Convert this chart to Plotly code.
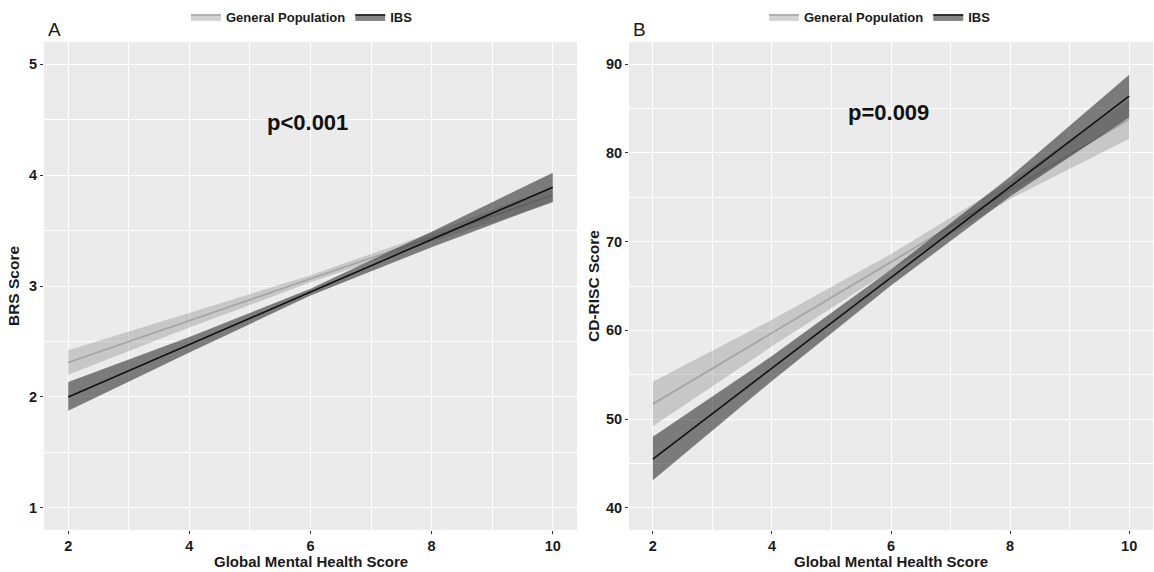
import plotly.graph_objects as go

# ---- data ----
x_pts = [2, 4, 6, 8, 10]

# Panel A: BRS Score
a_gp_fit = [2.31, 2.69, 3.065, 3.44, 3.82]
a_gp_lo = [2.20, 2.625, 3.033, 3.40, 3.75]
a_gp_hi = [2.42, 2.755, 3.097, 3.48, 3.89]
a_ibs_fit = [2.00, 2.47, 2.945, 3.42, 3.89]
a_ibs_lo = [1.875, 2.40, 2.915, 3.35, 3.76]
a_ibs_hi = [2.135, 2.54, 2.975, 3.49, 4.02]

# Panel B: CD-RISC Score
b_gp_fit = [51.7, 59.7, 67.7, 75.8, 83.8]
b_gp_lo = [49.2, 58.2, 66.8, 74.8, 81.6]
b_gp_hi = [54.2, 61.2, 68.6, 76.8, 86.0]
b_ibs_fit = [45.5, 55.7, 65.95, 76.2, 86.4]
b_ibs_lo = [43.1, 54.3, 65.05, 75.1, 84.0]
b_ibs_hi = [48.0, 57.1, 66.85, 77.3, 88.8]

groups = ["General Population", "IBS"]
p_labels = ["p<0.001", "p=0.009"]
x_title = "Global Mental Health Score"
y_titles = ["BRS Score", "CD-RISC Score"]
panel_tags = ["A", "B"]

GP_FILL = "rgba(150,150,150,0.42)"
GP_LINE = "#a3a3a3"
IBS_FILL = "rgba(55,55,55,0.62)"
IBS_LINE = "#111111"
FONT = "Liberation Sans, Arial, sans-serif"

fig = go.Figure()


def add_group(xa, ya, lo, hi, fit, fill, lcol, name, legend):
    fig.add_trace(go.Scatter(
        x=x_pts + x_pts[::-1], y=hi + lo[::-1], mode="lines", fill="toself",
        fillcolor=fill, line=dict(width=0), hoverinfo="skip", showlegend=False,
        xaxis=xa, yaxis=ya))
    fig.add_trace(go.Scatter(
        x=x_pts, y=fit, mode="lines", line=dict(color=lcol, width=1.6),
        showlegend=False, xaxis=xa, yaxis=ya))
    # legend key
    fig.add_trace(go.Scatter(
        x=[None], y=[None], mode="lines", fill="toself", fillcolor=fill,
        line=dict(color=lcol, width=1.6), name=name, legend=legend,
        xaxis=xa, yaxis=ya))


add_group("x", "y", a_gp_lo, a_gp_hi, a_gp_fit, GP_FILL, GP_LINE, groups[0], "legend")
add_group("x", "y", a_ibs_lo, a_ibs_hi, a_ibs_fit, IBS_FILL, IBS_LINE, groups[1], "legend")
add_group("x2", "y2", b_gp_lo, b_gp_hi, b_gp_fit, GP_FILL, GP_LINE, groups[0], "legend2")
add_group("x2", "y2", b_ibs_lo, b_ibs_hi, b_ibs_fit, IBS_FILL, IBS_LINE, groups[1], "legend2")

W, H = 1154, 572
ytop = 1 - 42 / H
ybot = 1 - 530 / H
dom_a = [44 / W, 577 / W]
dom_b = [629 / W, 1153 / W]

grid = dict(showgrid=True, gridcolor="white", gridwidth=1.3, zeroline=False,
            ticks="outside", ticklen=3, tickcolor="#333333", tickwidth=1,
            tickfont=dict(family=FONT, size=14.5, color="#1a1a1a", weight="bold"),
            showline=False)

xcommon = dict(grid, range=[1.6, 10.4], tickvals=[2, 4, 6, 8, 10],
               minor=dict(tickvals=[3, 5, 7, 9], showgrid=True, gridcolor="white",
                          gridwidth=0.6, ticks=""))

ytitle_font = dict(family=FONT, size=15.5, color="#1a1a1a", weight="bold")
xtitle_font = dict(family=FONT, size=15, color="#1a1a1a", weight="bold")

fig.update_layout(
    width=W, height=H, margin=dict(l=0, r=0, t=0, b=0),
    paper_bgcolor="white", plot_bgcolor="#ebebeb",
    xaxis=dict(xcommon, domain=dom_a, anchor="y"),
    xaxis2=dict(xcommon, domain=dom_b, anchor="y2"),
    yaxis=dict(grid, domain=[ybot, ytop], anchor="x", range=[0.8, 5.2],
               tickvals=[1, 2, 3, 4, 5],
               minor=dict(tickvals=[1.5, 2.5, 3.5, 4.5], showgrid=True, gridcolor="white",
                          gridwidth=0.6, ticks=""),
               title=dict(text=y_titles[0], font=ytitle_font, standoff=5)),
    yaxis2=dict(grid, domain=[ybot, ytop], anchor="x2", range=[37.5, 92.5],
                tickvals=[40, 50, 60, 70, 80, 90],
                minor=dict(tickvals=[45, 55, 65, 75, 85], showgrid=True, gridcolor="white",
                           gridwidth=0.6, ticks=""),
                title=dict(text=y_titles[1], font=ytitle_font, standoff=2)),
    legend=dict(orientation="h", x=302 / W, xanchor="center", y=1 - 17 / H, yanchor="middle",
                bgcolor="rgba(0,0,0,0)", font=dict(family=FONT, size=13, color="#1a1a1a", weight="bold"),
                itemwidth=30, traceorder="normal"),
    legend2=dict(orientation="h", x=880 / W, xanchor="center", y=1 - 17 / H, yanchor="middle",
                 bgcolor="rgba(0,0,0,0)", font=dict(family=FONT, size=13, color="#1a1a1a", weight="bold"),
                 itemwidth=30, traceorder="normal"),
    annotations=[
        dict(text=x_title, x=(dom_a[0] + dom_a[1]) / 2, y=1 - 571 / H, xref="paper", yref="paper",
             xanchor="center", yanchor="bottom", showarrow=False, font=xtitle_font, borderpad=0),
        dict(text=x_title, x=(dom_b[0] + dom_b[1]) / 2, y=1 - 571 / H, xref="paper", yref="paper",
             xanchor="center", yanchor="bottom", showarrow=False, font=xtitle_font, borderpad=0),
        dict(text=panel_tags[0], x=46 / W, y=1 - 29 / H, xref="paper", yref="paper",
             xanchor="left", yanchor="middle", showarrow=False,
             font=dict(family=FONT, size=19, color="#1a1a1a")),
        dict(text=panel_tags[1], x=631 / W, y=1 - 29 / H, xref="paper", yref="paper",
             xanchor="left", yanchor="middle", showarrow=False,
             font=dict(family=FONT, size=19, color="#1a1a1a")),
        dict(text=p_labels[0], x=5.95, y=4.47, xref="x", yref="y", showarrow=False,
             font=dict(family=FONT, size=22, color="#111111", weight="bold")),
        dict(text=p_labels[1], x=5.95, y=84.6, xref="x2", yref="y2", showarrow=False,
             font=dict(family=FONT, size=22, color="#111111", weight="bold")),
    ],
)

fig.write_html("out.html")
